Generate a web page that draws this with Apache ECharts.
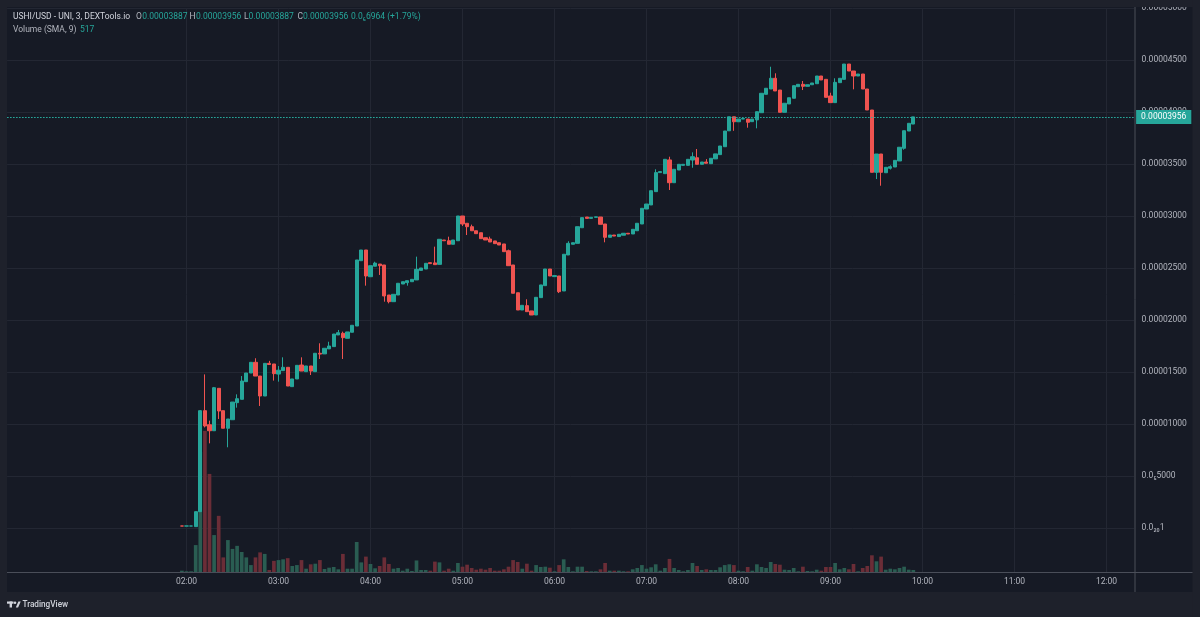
<!DOCTYPE html>
<html><head><meta charset="utf-8">
<script src="https://cdn.jsdelivr.net/npm/echarts/dist/echarts.min.js"></script>
<style>html,body{margin:0;padding:0;background:#161a25;}#c{width:1200px;height:617px;}</style>
</head><body><div id="c"></div><script>
// ---- time categories (3-minute bars) ----
const firstCategory = '00:03';
const stepMinutes = 3;
const categoryCount = 246;
const candleStart = '01:57';

// ---- candles (01:57 .. 09:54) ----
const opens = [
22e-8,22e-8,22e-8,16e-8,160e-8,1131e-8,996e-8,938e-8,1346e-8,1131e-8,
962e-8,1044e-8,1208e-8,1240e-8,1410e-8,1493e-8,1596e-8,1464e-8,1272e-8,1586e-8,
1580e-8,1483e-8,1516e-8,1548e-8,1362e-8,1436e-8,1570e-8,1506e-8,1561e-8,1506e-8,
1683e-8,1677e-8,1725e-8,1747e-8,1859e-8,1875e-8,1827e-8,1885e-8,1945e-8,2573e-8,
2676e-8,2419e-8,2520e-8,2541e-8,2532e-8,2243e-8,2179e-8,2243e-8,2349e-8,2362e-8,
2371e-8,2388e-8,2480e-8,2493e-8,2554e-8,2552e-8,2538e-8,2772e-8,2765e-8,2731e-8,
2765e-8,3003e-8,2933e-8,2900e-8,2861e-8,2842e-8,2794e-8,2782e-8,2763e-8,2746e-8,
2734e-8,2669e-8,2532e-8,2265e-8,2099e-8,2141e-8,2090e-8,2051e-8,2218e-8,2333e-8,
2493e-8,2420e-8,2426e-8,2282e-8,2628e-8,2731e-8,2740e-8,2890e-8,2993e-8,2980e-8,
2990e-8,2993e-8,2926e-8,2798e-8,2820e-8,2805e-8,2818e-8,2837e-8,2830e-8,2861e-8,
2926e-8,3070e-8,3109e-8,3237e-8,3420e-8,3410e-8,3542e-8,3323e-8,3445e-8,3490e-8,
3490e-8,3541e-8,3563e-8,3500e-8,3522e-8,3506e-8,3552e-8,3593e-8,3669e-8,3822e-8,
3957e-8,3909e-8,3935e-8,3935e-8,3910e-8,3927e-8,3996e-8,4173e-8,4224e-8,4327e-8,
4214e-8,4000e-8,4080e-8,4135e-8,4246e-8,4269e-8,4250e-8,4265e-8,4275e-8,4349e-8,
4317e-8,4157e-8,4093e-8,4285e-8,4317e-8,4464e-8,4397e-8,4349e-8,4368e-8,4224e-8,
4022e-8,3423e-8,3599e-8,3419e-8,3462e-8,3474e-8,3532e-8,3654e-8,3820e-8,3887e-8];
const closes = [
22e-8,22e-8,22e-8,160e-8,1131e-8,984e-8,938e-8,1352e-8,1128e-8,962e-8,
1051e-8,1214e-8,1246e-8,1416e-8,1493e-8,1596e-8,1464e-8,1272e-8,1586e-8,1575e-8,
1487e-8,1520e-8,1548e-8,1368e-8,1436e-8,1567e-8,1512e-8,1561e-8,1512e-8,1683e-8,
1675e-8,1731e-8,1753e-8,1868e-8,1881e-8,1833e-8,1888e-8,1952e-8,2580e-8,2676e-8,
2426e-8,2525e-8,2550e-8,2525e-8,2234e-8,2179e-8,2250e-8,2356e-8,2371e-8,2381e-8,
2394e-8,2490e-8,2503e-8,2548e-8,2545e-8,2535e-8,2779e-8,2765e-8,2731e-8,2772e-8,
3003e-8,2926e-8,2900e-8,2861e-8,2833e-8,2785e-8,2772e-8,2753e-8,2737e-8,2724e-8,
2660e-8,2525e-8,2260e-8,2099e-8,2144e-8,2083e-8,2051e-8,2221e-8,2340e-8,2493e-8,
2426e-8,2430e-8,2275e-8,2635e-8,2740e-8,2746e-8,2900e-8,2987e-8,2980e-8,2990e-8,
2995e-8,2923e-8,2798e-8,2820e-8,2810e-8,2827e-8,2837e-8,2830e-8,2875e-8,2933e-8,
3077e-8,3118e-8,3246e-8,3420e-8,3430e-8,3548e-8,3323e-8,3452e-8,3500e-8,3500e-8,
3548e-8,3573e-8,3500e-8,3522e-8,3510e-8,3558e-8,3600e-8,3676e-8,3820e-8,3957e-8,
3909e-8,3935e-8,3940e-8,3904e-8,3935e-8,4006e-8,4183e-8,4231e-8,4327e-8,4205e-8,
4000e-8,4087e-8,4140e-8,4256e-8,4269e-8,4250e-8,4265e-8,4282e-8,4349e-8,4311e-8,
4144e-8,4093e-8,4288e-8,4327e-8,4464e-8,4397e-8,4349e-8,4368e-8,4224e-8,4022e-8,
3423e-8,3599e-8,3423e-8,3471e-8,3477e-8,3538e-8,3664e-8,3823e-8,3894e-8,3956e-8];
const lows = [
22e-8,22e-8,22e-8,16e-8,160e-8,970e-8,817e-8,938e-8,1051e-8,962e-8,
779e-8,1044e-8,1160e-8,1240e-8,1410e-8,1493e-8,1464e-8,1176e-8,1272e-8,1570e-8,
1420e-8,1410e-8,1516e-8,1368e-8,1362e-8,1436e-8,1512e-8,1506e-8,1474e-8,1506e-8,
1628e-8,1677e-8,1725e-8,1747e-8,1859e-8,1628e-8,1827e-8,1885e-8,1945e-8,2573e-8,
2333e-8,2419e-8,2520e-8,2436e-8,2179e-8,2163e-8,2179e-8,2243e-8,2349e-8,2333e-8,
2371e-8,2388e-8,2480e-8,2493e-8,2545e-8,2535e-8,2538e-8,2765e-8,2731e-8,2731e-8,
2765e-8,2907e-8,2820e-8,2861e-8,2833e-8,2785e-8,2772e-8,2753e-8,2737e-8,2724e-8,
2660e-8,2525e-8,2260e-8,2099e-8,2099e-8,2083e-8,2051e-8,2051e-8,2218e-8,2333e-8,
2426e-8,2420e-8,2262e-8,2282e-8,2628e-8,2731e-8,2740e-8,2890e-8,2980e-8,2980e-8,
2990e-8,2923e-8,2750e-8,2798e-8,2810e-8,2805e-8,2818e-8,2830e-8,2830e-8,2861e-8,
2926e-8,3070e-8,3109e-8,3237e-8,3420e-8,3410e-8,3253e-8,3323e-8,3445e-8,3490e-8,
3490e-8,3467e-8,3500e-8,3500e-8,3510e-8,3506e-8,3552e-8,3593e-8,3669e-8,3822e-8,
3822e-8,3909e-8,3935e-8,3852e-8,3910e-8,3846e-8,3996e-8,4173e-8,4224e-8,4205e-8,
4000e-8,4000e-8,4080e-8,4135e-8,4246e-8,4214e-8,4250e-8,4265e-8,4275e-8,4311e-8,
4144e-8,4093e-8,4093e-8,4285e-8,4317e-8,4397e-8,4221e-8,4349e-8,4224e-8,4022e-8,
3423e-8,3358e-8,3294e-8,3419e-8,3450e-8,3474e-8,3532e-8,3640e-8,3820e-8,3887e-8];
const highs = [
22e-8,22e-8,22e-8,160e-8,1135e-8,1480e-8,1035e-8,1359e-8,1346e-8,1131e-8,
1051e-8,1214e-8,1288e-8,1464e-8,1493e-8,1596e-8,1635e-8,1464e-8,1586e-8,1610e-8,
1580e-8,1560e-8,1644e-8,1548e-8,1436e-8,1567e-8,1644e-8,1561e-8,1561e-8,1683e-8,
1779e-8,1731e-8,1794e-8,1868e-8,1907e-8,1891e-8,1888e-8,1952e-8,2580e-8,2676e-8,
2676e-8,2525e-8,2563e-8,2541e-8,2532e-8,2243e-8,2250e-8,2356e-8,2371e-8,2381e-8,
2394e-8,2612e-8,2503e-8,2548e-8,2554e-8,2708e-8,2779e-8,2772e-8,2804e-8,2772e-8,
3003e-8,3003e-8,2933e-8,2920e-8,2861e-8,2842e-8,2794e-8,2804e-8,2763e-8,2746e-8,
2734e-8,2680e-8,2532e-8,2265e-8,2144e-8,2202e-8,2090e-8,2221e-8,2340e-8,2493e-8,
2493e-8,2430e-8,2426e-8,2635e-8,2760e-8,2746e-8,2900e-8,2987e-8,2993e-8,2990e-8,
2995e-8,2993e-8,2926e-8,2820e-8,2820e-8,2827e-8,2837e-8,2837e-8,2875e-8,2933e-8,
3077e-8,3118e-8,3246e-8,3452e-8,3430e-8,3548e-8,3573e-8,3452e-8,3500e-8,3500e-8,
3548e-8,3615e-8,3647e-8,3522e-8,3550e-8,3558e-8,3600e-8,3676e-8,3820e-8,3957e-8,
3957e-8,3935e-8,3940e-8,3935e-8,3935e-8,4006e-8,4183e-8,4231e-8,4438e-8,4375e-8,
4214e-8,4087e-8,4140e-8,4256e-8,4269e-8,4301e-8,4265e-8,4282e-8,4349e-8,4349e-8,
4317e-8,4188e-8,4327e-8,4327e-8,4464e-8,4464e-8,4397e-8,4368e-8,4368e-8,4224e-8,
4022e-8,3599e-8,3599e-8,3471e-8,3490e-8,3538e-8,3664e-8,3823e-8,3894e-8,3956e-8];
const volumes = [
340,180,180,7000,31200,36700,25500,9600,14600,3800,
8300,6000,6800,5200,3800,1800,3800,5100,4700,520,
2900,3100,3300,3600,1560,1800,3100,860,2000,2160,
3100,780,1120,1300,700,4700,860,860,7800,2500,
4000,2080,960,1560,3800,2080,860,1040,340,860,
260,3000,520,520,340,2700,2500,340,860,340,
2340,1380,1900,1040,600,860,600,1040,340,340,
700,1380,3100,2600,860,2160,340,1800,1300,1380,
1120,180,1800,3300,1300,180,1380,1380,260,180,
180,700,2340,340,340,340,180,180,700,1040,
1800,860,1220,2000,340,1040,3400,1040,520,180,
520,2340,1560,520,700,520,520,1220,1800,2000,
1800,340,180,1300,340,2000,1300,1040,2600,2080,
1900,600,520,1040,180,1380,260,180,600,340,
1300,1300,2340,700,1040,700,2080,180,1040,1560,
4340,2780,4000,600,860,700,1040,1380,600,517];
const volumeAxisMax = 146900;

// ---- price axis ----
const priceMin = -0.000005, priceMax = 0.00005, priceStep = 0.000005;

// ---- legend texts ----
const titleText = 'USHI/USD - UNI, 3, DEXTools.io';
const changeText = '0.0\u20866964 (+1.79%)';
const volumeLegend = 'Volume (SMA, 9)';

// ===== build =====
function fmtTime(m){const h=Math.floor(m/60)%24, mm=m%60;return String(h).padStart(2,'0')+':'+String(mm).padStart(2,'0');}
function toMin(s){const p=s.split(':');return (+p[0])*60+(+p[1]);}
const categories=[];
for(let j=0;j<categoryCount;j++) categories.push(fmtTime(toMin(firstCategory)+j*stepMinutes));
const offset = categories.indexOf(candleStart);
const candleData = categories.map(()=>'-');
const volData = categories.map(()=>'-');
const UP='#26a69a', DOWN='#ef5350', UPV='#2a5d52', DOWNV='#6b2d37';
for(let k=0;k<opens.length;k++){
  candleData[offset+k]=[opens[k],closes[k],lows[k],highs[k]];
  volData[offset+k]={value:volumes[k], itemStyle:{color: closes[k]>=opens[k]?UPV:DOWNV}};
}
const lastO=opens[opens.length-1], lastC=closes[closes.length-1], lastH=highs[highs.length-1], lastL=lows[lows.length-1];
const hourFn=(idx,val)=> idx>=offset && String(val).endsWith(':00');
function fmtPrice(v){
  if(v < -1e-12) return '';
  if(Math.abs(v) < 1e-12) return '0.0\u2082\u20801';
  if(Math.abs(v-0.000005) < 1e-12) return '0.0\u20855000';
  return v.toFixed(8);
}
const FONT='Roboto';
const GL=7.1, GR=65.9;
const OUT='#1e212b', LINE='#4a4e59', GRIDC='#232733', TXT='#b2b5be';
function txt(x,y,t,c,extra){return Object.assign({type:'text',z:101,style:{x:x,y:y,text:t,fill:c,font:'8.5px '+FONT,textVerticalAlign:'middle',textAlign:'left'}},extra||{});}

const chart = echarts.init(document.getElementById('c'), null, {renderer:'canvas'});
chart.setOption({
  animation:false,
  backgroundColor:'#161a25',
  grid:[
    {left:GL,right:GR,top:8.3,bottom:617-580.3,outerBoundsMode:'none',containLabel:false},
    {left:GL,right:GR,top:7,bottom:45,outerBoundsMode:'none',containLabel:false}
  ],
  xAxis:[
    {type:'category',gridIndex:0,data:categories,boundaryGap:false,
     axisLine:{show:false},axisTick:{show:false},axisLabel:{show:false},
     splitLine:{show:true,interval:hourFn,lineStyle:{color:GRIDC,width:1}}},
    {type:'category',gridIndex:1,data:categories,boundaryGap:false,position:'bottom',z:200,
     axisLine:{show:false},axisTick:{show:false},splitLine:{show:false},
     axisLabel:{interval:hourFn,color:TXT,fontSize:8.5,fontFamily:FONT,margin:5,hideOverlap:false}}
  ],
  yAxis:[
    {type:'value',gridIndex:0,position:'right',min:priceMin,max:priceMax,interval:priceStep,
     axisLine:{show:false},axisTick:{show:false},
     axisLabel:{margin:7.5,color:TXT,fontSize:8.5,fontFamily:FONT,formatter:fmtPrice,hideOverlap:false},
     splitLine:{lineStyle:{color:GRIDC,width:1}}},
    {type:'value',gridIndex:1,min:0,max:volumeAxisMax,show:false,splitLine:{show:false}}
  ],
  series:[
    {type:'bar',xAxisIndex:1,yAxisIndex:1,data:volData,barWidth:'80%',z:1,silent:true},
    {type:'candlestick',xAxisIndex:0,yAxisIndex:0,data:candleData,barWidth:'80%',z:3,clip:false,silent:true,
     itemStyle:{color:UP,color0:DOWN,borderColor:UP,borderColor0:DOWN,borderWidth:1}},
    {type:'line',xAxisIndex:0,yAxisIndex:0,data:[],z:4,silent:true,symbol:'none',
     markLine:{silent:true,symbol:['none','none'],animation:false,precision:10,
       lineStyle:{color:'#29b3a5',type:[1.5,1.5],width:1.2,opacity:1},
       label:{show:true,position:'end',distance:2,formatter:()=>lastC.toFixed(8),color:'#ffffff',
              backgroundColor:UP,padding:[3,5,2,5],fontSize:8.5,fontFamily:FONT},
       emphasis:{disabled:true},
       data:[{yAxis:lastC}]}}
  ],
  graphic:{elements:[
    // time axis band and frame
    {type:'rect',z:100,shape:{x:7,y:572.5,width:1186,height:20},style:{fill:'#161a25'}},
    {type:'rect',z:100,shape:{x:0,y:0,width:1200,height:7},style:{fill:OUT}},
    {type:'rect',z:100,shape:{x:0,y:592,width:1200,height:25},style:{fill:OUT}},
    {type:'rect',z:100,shape:{x:0,y:0,width:7,height:617},style:{fill:OUT}},
    {type:'rect',z:100,shape:{x:1192.5,y:0,width:7.5,height:617},style:{fill:OUT}},
    {type:'line',z:101,shape:{x1:7,y1:572.5,x2:1192.5,y2:572.5},style:{stroke:LINE,lineWidth:1}},
    {type:'line',z:101,shape:{x1:1135,y1:7,x2:1135,y2:592},style:{stroke:LINE,lineWidth:1}},
    // legend
    txt(13,17,titleText,'#d1d4dc'),
    txt(136,17,'O',TXT), txt(142.3,17,lastO.toFixed(8),UP),
    txt(189.5,17,'H',TXT), txt(196,17,lastH.toFixed(8),UP),
    txt(244,17,'L',TXT), txt(248.6,17,lastL.toFixed(8),UP),
    txt(297.5,17,'C',TXT), txt(303,17,lastC.toFixed(8),UP),
    txt(351,17,changeText,UP),
    txt(13,30,volumeLegend,TXT), txt(80,30,String(volumes[volumes.length-1]),UP),
    // footer logo
    {type:'rect',z:102,shape:{x:7,y:601.5,width:6.5,height:2.2},style:{fill:'#d1d4dc'}},
    {type:'rect',z:102,shape:{x:9.6,y:601.5,width:2.4,height:6},style:{fill:'#d1d4dc'}},
    {type:'circle',z:102,shape:{cx:15,cy:602.7,r:1.3},style:{fill:'#d1d4dc'}},
    {type:'polygon',z:102,shape:{points:[[15.8,607.5],[18.4,601.5],[20.7,601.5],[18.1,607.5]]},style:{fill:'#d1d4dc'}},
    {type:'text',z:102,style:{x:22.5,y:604.5,text:'TradingView',fill:'#d1d4dc',font:'500 8.2px '+FONT,textVerticalAlign:'middle'}}
  ]}
});
</script></body></html>
